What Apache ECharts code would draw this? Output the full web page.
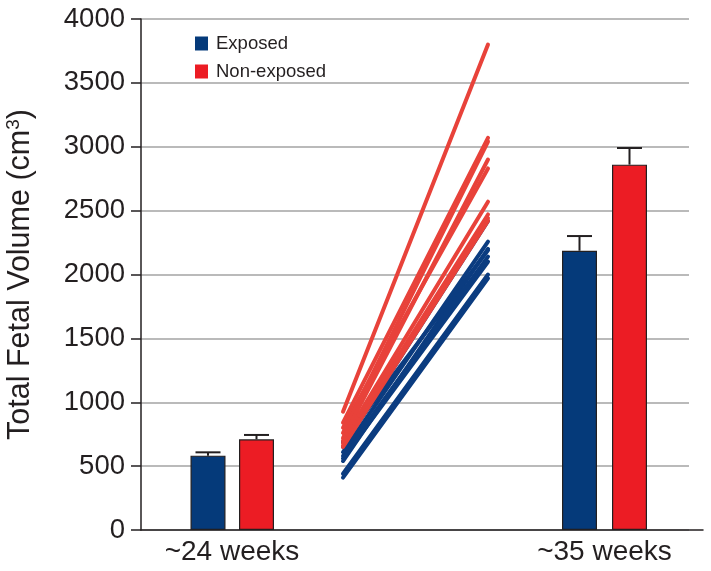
<!DOCTYPE html>
<html>
<head>
<meta charset="utf-8">
<script src="https://cdn.jsdelivr.net/npm/echarts@6/dist/echarts.min.js"></script>
<style>html,body{margin:0;padding:0;background:#fff}#c{width:711px;height:571px}</style>
</head>
<body>
<div id="c"></div>
<script>
// ---- data ----
const timepoints = ['~24 weeks', '~35 weeks'];
const groups = ['Exposed', 'Non-exposed'];
const exposedMean = [582, 2186];
const exposedSem = [26, 115];
const nonExposedMean = [710, 2860];
const nonExposedSem = [34, 130];
// individual subjects: [~24 weeks, ~35 weeks]
const exposedStart = [410, 440, 540, 560, 580, 610, 650, 690];
const exposedEnd   = [1970, 2000, 2200, 2100, 2140, 2257, 2420, 2190];
const nonExposedStart = [926, 840, 800, 760, 720, 700, 680, 660, 650];
const nonExposedEnd   = [3800, 3070, 2830, 3040, 2900, 2570, 2470, 2440, 2420];
const yTicks = [0, 500, 1000, 1500, 2000, 2500, 3000, 3500, 4000];

// ---- layout (x positions on a hidden pixel-like scale) ----
const X_SPAN = 562;
const barX = { Exposed: [67, 438.5], 'Non-exposed': [115.5, 488.5] };
const labelX = [91, 463.5];
const lineX = [202, 347];

const BLUE = '#053a7a', RED = '#ec1c24';
const BLUE_LINE = '#0b3c80', RED_LINE = '#e8423a';
const INK = '#231f20';
const FONT = '"Liberation Sans", Arial, Helvetica, sans-serif';

const chart = echarts.init(document.getElementById('c'), null, {renderer: 'canvas'});

function barSeries(name, means, color) {
  return {
    name: name, type: 'bar', xAxisIndex: 1, yAxisIndex: 1,
    barWidth: 35, barGap: '-100%',
    itemStyle: {color: color, borderColor: INK, borderWidth: 1.2},
    data: means.map((v, i) => [barX[name][i], v]),
    z: 3
  };
}
function errSeries(name, means, sems) {
  return {
    type: 'custom', xAxisIndex: 1, yAxisIndex: 1, z: 4,
    data: means.map((v, i) => [barX[name][i], v, v + sems[i]]),
    renderItem: function (params, api) {
      const b = api.coord([api.value(0), api.value(1)]);
      const t = api.coord([api.value(0), api.value(2)]);
      const st = {stroke: INK, lineWidth: 2};
      return {type: 'group', children: [
        {type: 'line', shape: {x1: b[0], y1: b[1], x2: t[0], y2: t[1]}, style: st},
        {type: 'line', shape: {x1: t[0] - 12.5, y1: t[1], x2: t[0] + 12.5, y2: t[1]}, style: st}
      ]};
    }
  };
}
function subjectLines(starts, ends, color, tag) {
  return starts.map((s, i) => ({
    name: tag + i, type: 'line', xAxisIndex: 1, yAxisIndex: 1,
    symbol: 'none', silent: true, z: 2,
    lineStyle: {color: color, width: 4, cap: 'round'},
    data: [[lineX[0], s], [lineX[1], ends[i]]]
  }));
}

const option = {
  animation: false,
  backgroundColor: '#fff',
  textStyle: {fontFamily: FONT},
  grid: [
    {left: 141, top: 19, width: 548, height: 511, outerBoundsMode: 'none', containLabel: false},
    {left: 141, top: 19, width: X_SPAN, height: 511, outerBoundsMode: 'none', containLabel: false}
  ],
  legend: {
    orient: 'vertical', left: 190, top: 29, itemWidth: 13, itemHeight: 14, itemGap: 9,
    icon: 'rect', data: groups,
    itemStyle: {borderWidth: 0},
    textStyle: {fontSize: 18.5, color: INK, fontFamily: FONT, padding: [0, 0, 0, 3]}
  },
  xAxis: [
    {type: 'value', gridIndex: 0, min: 0, max: 548, show: false},
    {type: 'value', gridIndex: 1, min: 0, max: X_SPAN,
      axisLine: {show: true, lineStyle: {color: INK, width: 1.5}},
      axisTick: {show: false}, splitLine: {show: false},
      axisLabel: {
        customValues: labelX, margin: 8, fontSize: 28, color: INK, fontFamily: FONT,
        formatter: function (v) { const i = labelX.indexOf(v); return i >= 0 ? timepoints[i] : ''; }
      }
    }
  ],
  yAxis: [
    {type: 'value', gridIndex: 0, min: 0, max: 4000, interval: 500,
      axisLine: {show: true, lineStyle: {color: INK, width: 1.5}},
      axisTick: {show: true, length: 10, lineStyle: {color: INK, width: 1.5}},
      splitLine: {show: true, lineStyle: {color: '#a3a3a3', width: 1.5}},
      axisLabel: {margin: 16, fontSize: 27.5, color: INK, fontFamily: FONT,
        formatter: function (v) { return yTicks.indexOf(v) >= 0 ? String(v) : ''; }},
      name: 'Total Fetal Volume (cm{sup|3})', nameLocation: 'middle', nameGap: 103,
      nameTextStyle: {fontSize: 30.5, color: INK, fontFamily: FONT,
        rich: {sup: {fontSize: 19, color: INK, fontFamily: FONT, padding: [0, 0, 15, 0]}}}
    },
    {type: 'value', gridIndex: 1, min: 0, max: 4000, show: false}
  ],
  series: [
    barSeries('Exposed', exposedMean, BLUE),
    barSeries('Non-exposed', nonExposedMean, RED),
    errSeries('Exposed', exposedMean, exposedSem),
    errSeries('Non-exposed', nonExposedMean, nonExposedSem)
  ].concat(subjectLines(exposedStart, exposedEnd, BLUE_LINE, 'e'))
   .concat(subjectLines(nonExposedStart, nonExposedEnd, RED_LINE, 'n'))
};
chart.setOption(option);
</script>
</body>
</html>
